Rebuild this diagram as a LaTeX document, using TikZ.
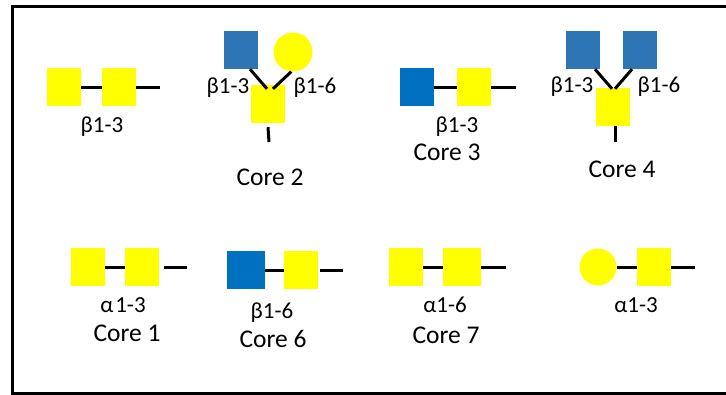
\documentclass[tikz,border=0pt]{standalone}
\usepackage{fontspec}
\setmainfont{Carlito}
\definecolor{galnacyellow}{RGB}{255,255,0}
\definecolor{glcnacblue}{RGB}{46,117,182}
\definecolor{glcnacdark}{RGB}{0,112,192}
\begin{document}
\begin{tikzpicture}[x=1pt,y=-1pt,
        galnac/.style={rectangle,fill=galnacyellow,minimum width=34pt,minimum height=38pt,inner sep=0pt},
        glcnac/.style={rectangle,fill=glcnacblue,minimum width=34pt,minimum height=38pt,inner sep=0pt},
        gal/.style={circle,fill=galnacyellow,minimum size=38pt,inner sep=0pt},
        bond/.style={line width=3pt},
        linkage/.style={anchor=base,font=\fontsize{23}{27}\selectfont},
        corename/.style={anchor=base,font=\fontsize{25.5}{30}\selectfont}]
        \useasboundingbox (0,0) rectangle (726,394);
        \draw [line width=3pt] (12,6) rectangle (740,393);

        % top row
        \draw (64,87) node (a1) [galnac] {};
        \draw (119,87) node (a2) [galnac] {};
        \coordinate (a3) at (160,87);
        \draw [bond] (a1.east) to (a2.west);
        \draw [bond] (a2.east) to (a3);
        \draw (102,132) node [linkage] {β1-3};

        \draw (241,50) node (b1) [glcnac] {};
        \draw (293,52) node (b2) [gal,minimum size=39pt] {};
        \draw (268,104) node (b3) [galnac] {};
        \coordinate (b4) at (269,142);
        \draw [bond] ([xshift=9pt]b1.south) to ([xshift=-1pt,yshift=-4pt]b3.north);
        \draw [bond] (b2.265) to ([xshift=5pt,yshift=-4pt]b3.north);
        \draw [bond] ([yshift=-4pt]b3.south) to (b4);
        \draw (228,93) node [linkage] {β1-3};
        \draw (315,93) node [linkage] {β1-6};
        \draw (270,185) node [corename] {Core 2};

        \draw (417,87) node (c1) [glcnac,fill=glcnacdark] {};
        \draw (474,87) node (c2) [galnac] {};
        \coordinate (c3) at (516,87);
        \draw [bond] (c1.east) to (c2.west);
        \draw [bond] (c2.east) to (c3);
        \draw (457,132) node [linkage] {β1-3};
        \draw (447,160) node [corename] {Core 3};

        \draw (583,50) node (d1) [glcnac] {};
        \draw (640,50) node (d2) [glcnac] {};
        \draw (613,107) node (d3) [galnac] {};
        \coordinate (d4) at (615,142);
        \draw [bond] ([xshift=12pt]d1.south) to ([xshift=-1pt,yshift=-1pt]d3.north);
        \draw [bond] ([xshift=-8pt]d2.south) to ([xshift=2pt,yshift=-1pt]d3.north);
        \draw [bond] ([xshift=2pt]d3.south) to (d4);
        \draw (572,92) node [linkage] {β1-3};
        \draw (659,92) node [linkage] {β1-6};
        \draw (622,177) node [corename] {Core 4};

        % bottom row
        \draw (88,267) node (e1) [galnac] {};
        \draw (142,267) node (e2) [galnac] {};
        \coordinate (e3) at (187,267);
        \draw [bond] (e1.east) to (e2.west);
        \draw [bond] ([xshift=5pt]e2.east) to (e3);
        \draw (123,312) node [linkage] {α\kern2pt 1-3};
        \draw (127,341) node [corename] {Core 1};

        \draw (246,270) node (f1) [glcnac,fill=glcnacdark,minimum width=38pt] {};
        \draw (301,270) node (f2) [galnac] {};
        \coordinate (f3) at (343,270);
        \draw [bond] (f1.east) to (f2.west);
        \draw [bond] ([xshift=2pt]f2.east) to (f3);
        \draw (272,318) node [linkage] {β1-6};
        \draw (273,347) node [corename] {Core 6};

        \draw (406,267) node (g1) [galnac] {};
        \draw (462,267) node (g2) [galnac,minimum width=38pt] {};
        \coordinate (g3) at (506,267);
        \draw [bond] (g1.east) to (g2.west);
        \draw [bond] (g2.east) to (g3);
        \draw (445,312) node [linkage] {α1-6};
        \draw (446,343) node [corename] {Core 7};

        \draw (598,267) node (h1) [gal,minimum size=37pt] {};
        \draw (654,267) node (h2) [galnac] {};
        \coordinate (h3) at (695,267);
        \draw [bond] (h1.east) to (h2.west);
        \draw [bond] (h2.east) to (h3);
        \draw (636,312) node [linkage] {α1-3};
    \end{tikzpicture}
\end{document}
